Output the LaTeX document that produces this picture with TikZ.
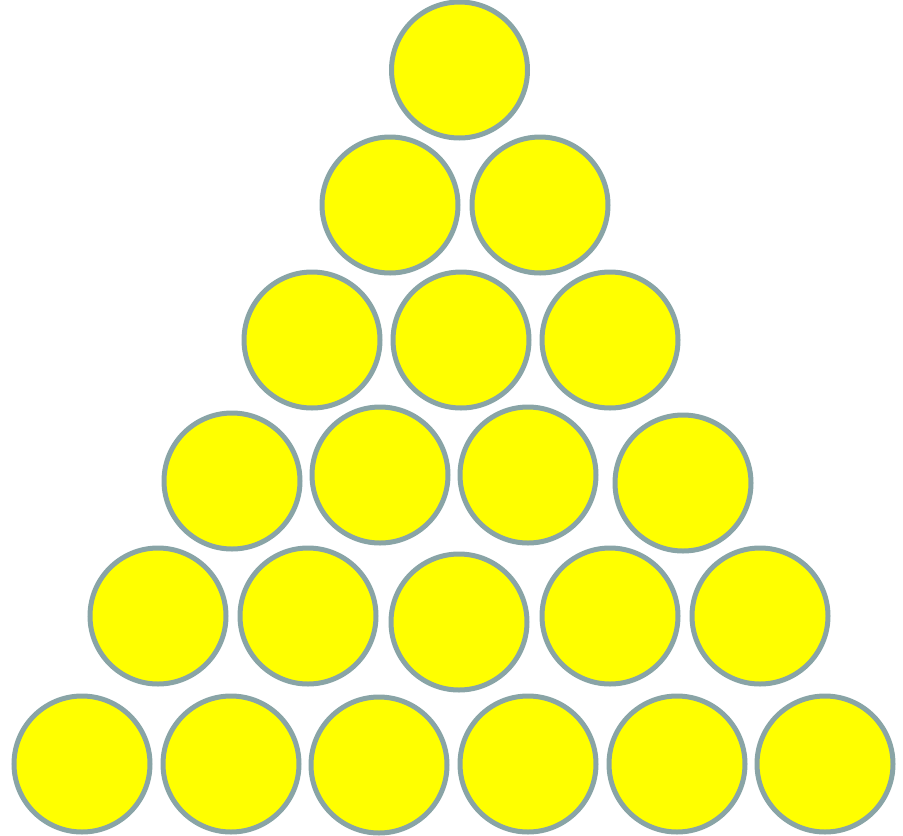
\documentclass[tikz,border=0pt]{standalone}
\definecolor{ballfill}{RGB}{255,255,0}
\definecolor{balledge}{RGB}{137,164,166}
\begin{document}
\begin{tikzpicture}[x=1pt,y=-1pt,
  ball/.style={circle,draw=balledge,fill=ballfill,line width=5pt,minimum size=136pt,inner sep=0pt}]
\useasboundingbox (0,0) rectangle (903,836);
% row 1
\node[ball] (a1) at (459.5,70) {};
% row 2
\node[ball] (b1) at (390,205) {};
\node[ball] (b2) at (540,205) {};
% row 3
\node[ball] (c1) at (312,340) {};
\node[ball] (c2) at (461,340) {};
\node[ball] (c3) at (610,340) {};
% row 4
\node[ball] (d1) at (232,481) {};
\node[ball] (d2) at (380,475) {};
\node[ball] (d3) at (528,475) {};
\node[ball] (d4) at (683,483) {};
% row 5
\node[ball] (e1) at (158,616) {};
\node[ball] (e2) at (308,616) {};
\node[ball] (e3) at (459,622) {};
\node[ball] (e4) at (610,616) {};
\node[ball] (e5) at (760,616) {};
% row 6
\node[ball] (f1) at (82,764) {};
\node[ball] (f2) at (231,764) {};
\node[ball] (f3) at (379,765) {};
\node[ball] (f4) at (528,764) {};
\node[ball] (f5) at (677,764) {};
\node[ball] (f6) at (825,764) {};
\end{tikzpicture}
\end{document}
